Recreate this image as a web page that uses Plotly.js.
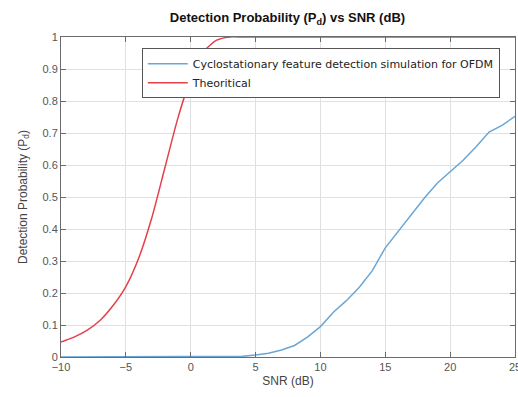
<!DOCTYPE html>
<html>
<head>
<meta charset="utf-8">
<script src="https://cdn.plot.ly/plotly-3.0.1.min.js"></script>
<style>html,body{margin:0;padding:0;background:#fff;}#chart{width:518px;height:397px;}</style>
</head>
<body>
<div id="chart"></div>
<script>
// SNR values (dB)
const snr = [-10,-9,-8,-7,-6,-5,-4,-3,-2,-1,0,1,2,3,4,5,6,7,8,9,10,11,12,13,14,15,16,17,18,19,20,21,22,23,24,25];
// Cyclostationary feature detection simulation for OFDM
const simPd = [0,0,0,0,0,0,0,0,0,0,0,0,0,0,0.002,0.006,0.012,0.022,0.036,0.062,0.095,0.14,0.176,0.218,0.27,0.341,0.393,0.442,0.496,0.543,0.579,0.615,0.657,0.703,0.724,0.752];
// Theoretical
const theoPd = [0.047,0.062,0.083,0.114,0.16,0.22,0.31,0.435,0.59,0.745,0.87,0.955,0.99,1,1,1,1,1,1,1,1,1,1,1,1,1,1,1,1,1,1,1,1,1,1,1];
const xTicks = [-10,-5,0,5,10,15,20,25];
const yTicks = [0,0.1,0.2,0.3,0.4,0.5,0.6,0.7,0.8,0.9,1];
const yTickText = ['0','0.1','0.2','0.3','0.4','0.5','0.6','0.7','0.8','0.9','1'];

const traces = [
  {x: snr, y: simPd, type: 'scatter', mode: 'lines', name: 'Cyclostationary feature detection simulation for OFDM',
   line: {color: '#6aa6d6', width: 1.5}},
  {x: snr, y: theoPd, type: 'scatter', mode: 'lines', name: 'Theoritical',
   line: {color: '#e5404a', width: 1.5, shape: 'spline', smoothing: 0.6}}
];

const axisCommon = {
  showline: true, linecolor: '#6b6b6b', linewidth: 1, mirror: 'ticks',
  ticks: 'inside', ticklen: 5, tickcolor: '#6b6b6b',
  showgrid: true, gridcolor: '#e0e0e0', gridwidth: 1,
  zeroline: false, ticklabeloverflow: 'allow',
  tickfont: {family: 'Liberation Sans, Arial, sans-serif', size: 11, color: '#555'}
};

const layout = {
  width: 518, height: 397,
  margin: {l: 61, r: 3, t: 37, b: 40},
  paper_bgcolor: '#fff', plot_bgcolor: '#fff',
  title: {text: '<b>Detection Probability (P<sub>d</sub>) vs SNR (dB)</b>', x: 0.555, xanchor: 'center', y: 0.955, yanchor: 'middle',
          font: {family: 'Liberation Sans, Arial, sans-serif', size: 13, color: '#111'}},
  xaxis: Object.assign({}, axisCommon, {range: [-10, 25], tickvals: xTicks,
    title: {text: 'SNR (dB)', standoff: 4, font: {family: 'Liberation Sans, Arial, sans-serif', size: 12, color: '#444'}}}),
  yaxis: Object.assign({}, axisCommon, {range: [0, 1], tickvals: yTicks, ticktext: yTickText,
    title: {text: 'Detection Probability (P<sub>d</sub>)', standoff: 12, font: {family: 'Liberation Sans, Arial, sans-serif', size: 12, color: '#444'}}}),
  showlegend: true,
  legend: {x: 0.178, y: 0.965, xanchor: 'left', yanchor: 'top',
    bgcolor: '#fff', bordercolor: '#555', borderwidth: 1,
    font: {family: 'DejaVu Sans, sans-serif', size: 11, color: '#222'},
    itemwidth: 40, tracegroupgap: 0}
};

Plotly.newPlot('chart', traces, layout, {displayModeBar: false, staticPlot: true});
</script>
</body>
</html>
